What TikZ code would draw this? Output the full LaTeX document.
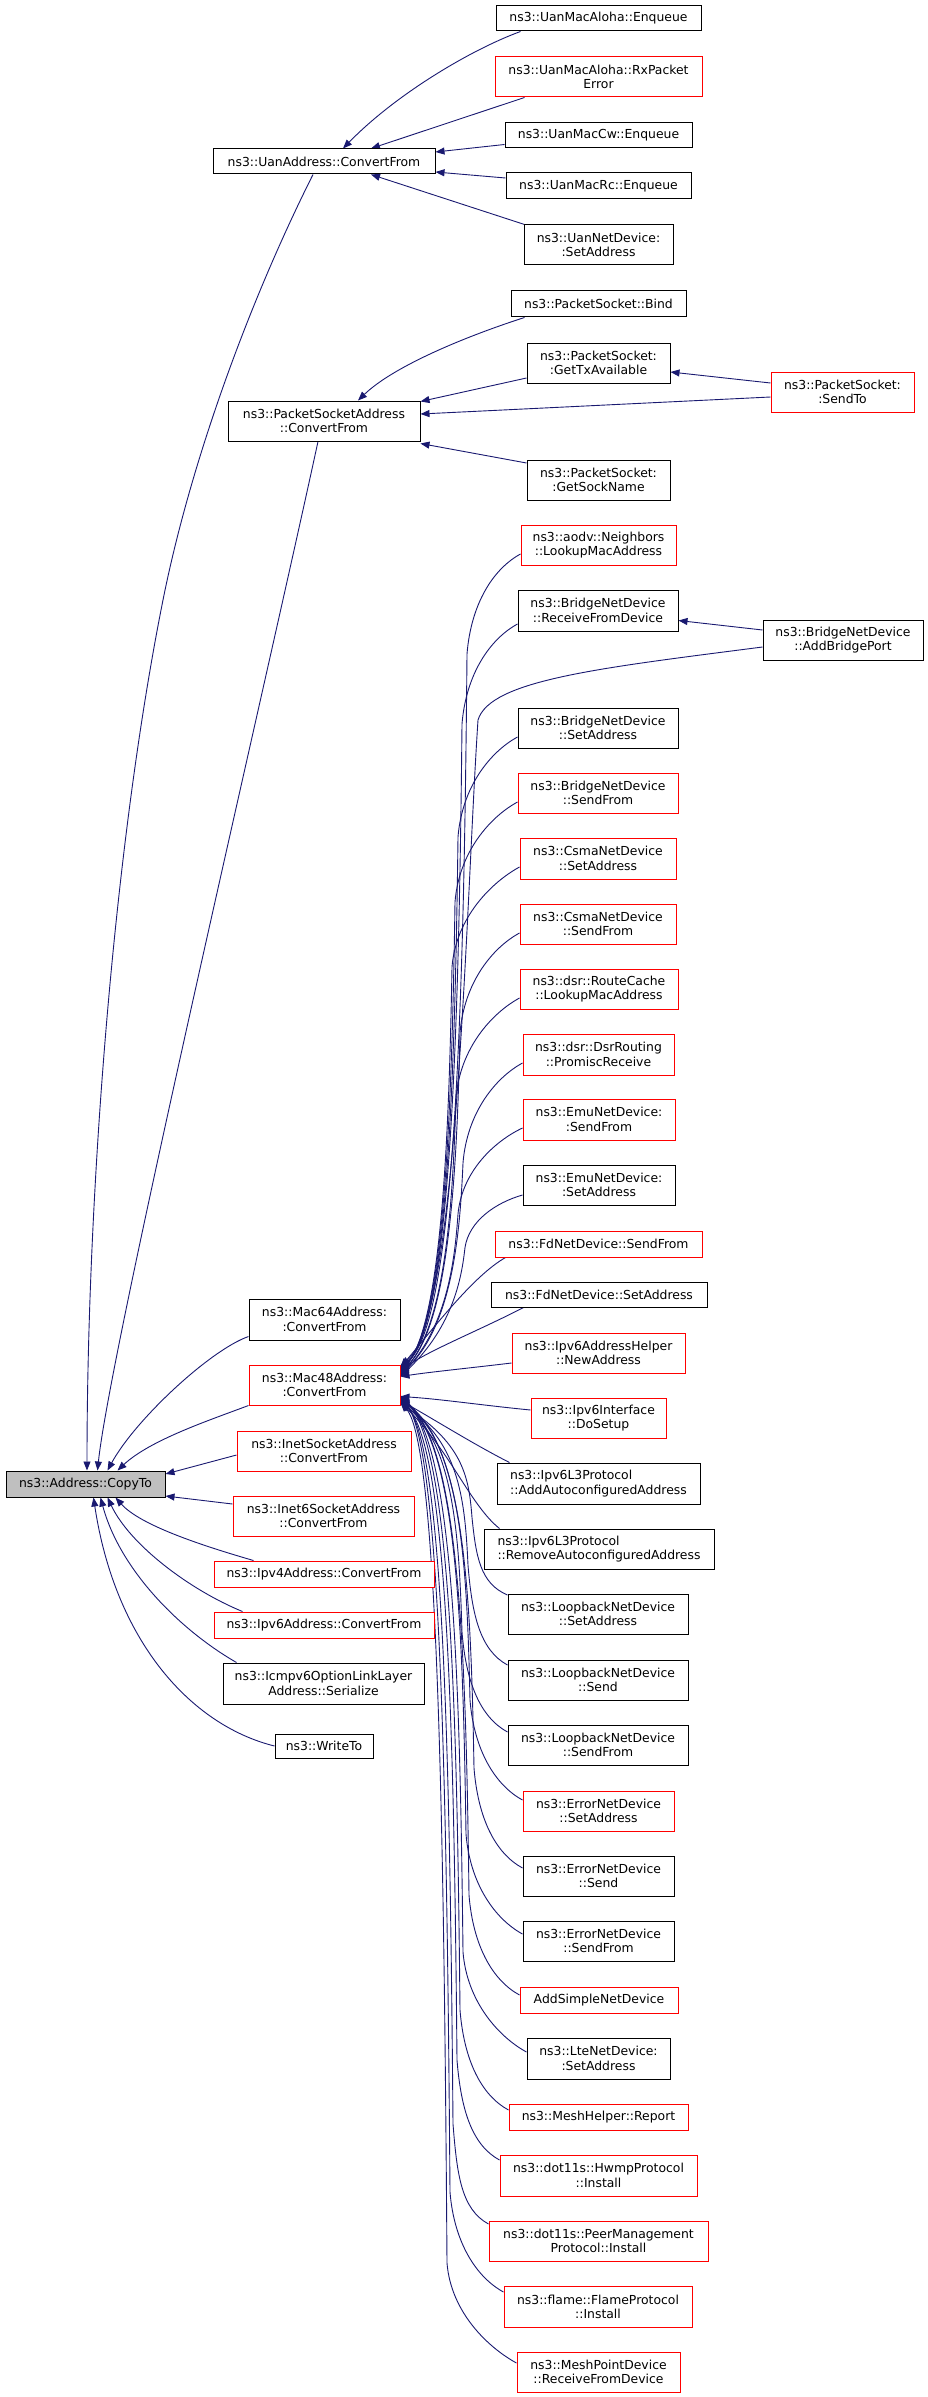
\documentclass[tikz,border=0pt]{standalone}
\usepackage{fontspec}
\setmainfont{DejaVu Sans}
\usetikzlibrary{arrows.meta}
\pgfdeclarelayer{bg}
\pgfsetlayers{bg,main}
\definecolor{edgec}{HTML}{191970}
\definecolor{redc}{HTML}{FF0000}
\definecolor{grayc}{HTML}{BFBFBF}
\tikzset{
  nbox/.style={draw, line width=1pt, fill=white, inner sep=0pt, align=center, text=black,
    font=\fontsize{12.4}{14.3}\selectfont},
  bk/.style={nbox, draw=black},
  rd/.style={nbox, draw=redc},
  gr/.style={nbox, draw=black, fill=grayc},
  bkl/.style={nbox, draw=black, align=left},
  conn/.style={draw=edgec, line width=0.9pt, -{Triangle[length=9pt,width=7pt]}},
}
\newcommand\nd[7]{\node[#6, minimum width={#4-#2}, minimum height={#5-#3}] (#1) at ({(#2+#4)/2},{(#3+#5)/2}) {#7};}
\newcommand\fanU[6]{%
 \pgfmathsetmacro\fanh{min(100,(1300-#4)/2)}%
 \pgfmathsetmacro\fanty{#4+\fanh}%
 \pgfmathsetmacro\fancy{\fanty+0.5*(1300-\fanty)}%
 \draw[conn] ([yshift=#2]#1.west) .. controls ({#3-28},{#4+0.15*\fanh}) and ({#5+4},{#4+0.5*\fanh}) .. (#5,\fanty) .. controls ({#5-3},\fancy) and ({#5-10},1325) .. ([yshift=#6]mac48.north east);}
\newcommand\fanL[6]{%
 \pgfmathsetmacro\fanh{min(100,(#4-1440)/2)}%
 \pgfmathsetmacro\fanty{#4-\fanh}%
 \pgfmathsetmacro\fancy{\fanty-0.5*(\fanty-1440)}%
 \draw[conn] ([yshift=#2]#1.west) .. controls ({#3-28},{#4-0.15*\fanh}) and ({#5+4},{#4-0.5*\fanh}) .. (#5,\fanty) .. controls ({#5-3},\fancy) and ({#5-8},1445) .. ([yshift=#6]mac48.south east);}
\begin{document}
\begin{tikzpicture}[x=1pt,y=-1pt]
\useasboundingbox (0,0) rectangle (928,2397);
% nodes
\nd{aloha}{496}{6}{701}{31}{bk}{ns3::UanMacAloha::Enqueue}
\nd{rxerr}{495}{57}{702}{97}{rd}{ns3::UanMacAloha::RxPacket\\Error}
\nd{cw}{505}{123}{692}{148}{bk}{ns3::UanMacCw::Enqueue}
\nd{uan}{213}{149}{435}{174}{bk}{ns3::UanAddress::ConvertFrom}
\nd{rc}{506}{173}{691}{199}{bk}{ns3::UanMacRc::Enqueue}
\nd{uannd}{524}{225}{673}{265}{bk}{ns3::UanNetDevice:\\:SetAddress}
\nd{bind}{511}{291}{686}{317}{bk}{ns3::PacketSocket::Bind}
\nd{gettx}{527}{343}{670}{383}{bk}{ns3::PacketSocket:\\:GetTxAvailable}
\nd{sendto}{771}{372}{914}{412}{rd}{ns3::PacketSocket:\\:SendTo}
\nd{psa}{228}{401}{420}{441}{bk}{ns3::PacketSocketAddress\\::ConvertFrom}
\nd{sockname}{527}{460}{670}{500}{bk}{ns3::PacketSocket:\\:GetSockName}
\nd{aodv}{521}{525}{676}{565}{rd}{ns3::aodv::Neighbors\\::LookupMacAddress}
\nd{brrecv}{518}{590}{678}{631}{bk}{ns3::BridgeNetDevice\\::ReceiveFromDevice}
\nd{brport}{763}{620}{923}{660}{bk}{ns3::BridgeNetDevice\\::AddBridgePort}
\nd{brset}{518}{708}{678}{748}{bk}{ns3::BridgeNetDevice\\::SetAddress}
\nd{brsend}{518}{773}{678}{813}{rd}{ns3::BridgeNetDevice\\::SendFrom}
\nd{csmaset}{520}{838}{676}{879}{rd}{ns3::CsmaNetDevice\\::SetAddress}
\nd{csmasend}{520}{904}{676}{944}{rd}{ns3::CsmaNetDevice\\::SendFrom}
\nd{dsrrc}{520}{969}{678}{1009}{rd}{ns3::dsr::RouteCache\\::LookupMacAddress}
\nd{dsrr}{523}{1034}{674}{1075}{rd}{ns3::dsr::DsrRouting\\::PromiscReceive}
\nd{emusend}{523}{1099}{675}{1140}{rd}{ns3::EmuNetDevice:\\:SendFrom}
\nd{emuset}{523}{1165}{675}{1205}{bk}{ns3::EmuNetDevice:\\:SetAddress}
\nd{fdsend}{495}{1231}{702}{1257}{rd}{ns3::FdNetDevice::SendFrom}
\nd{fdset}{491}{1282}{707}{1307}{bk}{ns3::FdNetDevice::SetAddress}
\nd{mac64}{249}{1299}{400}{1340}{bk}{ns3::Mac64Address:\\:ConvertFrom}
\nd{ip6ah}{512}{1333}{685}{1373}{rd}{ns3::Ipv6AddressHelper\\::NewAddress}
\nd{mac48}{249}{1365}{400}{1405}{rd}{ns3::Mac48Address:\\:ConvertFrom}
\nd{ip6if}{531}{1398}{666}{1438}{rd}{ns3::Ipv6Interface\\::DoSetup}
\nd{inet}{237}{1431}{411}{1471}{rd}{ns3::InetSocketAddress\\::ConvertFrom}
\nd{copyto}{6}{1471}{165}{1497}{gr}{ns3::Address::CopyTo}
\nd{l3add}{497}{1463}{700}{1504}{bkl}{ns3::Ipv6L3Protocol\\::AddAutoconfiguredAddress}
\nd{inet6}{233}{1496}{414}{1536}{rd}{ns3::Inet6SocketAddress\\::ConvertFrom}
\nd{l3rem}{484}{1529}{714}{1569}{bkl}{ns3::Ipv6L3Protocol\\::RemoveAutoconfiguredAddress}
\nd{ip4}{214}{1561}{434}{1587}{rd}{ns3::Ipv4Address::ConvertFrom}
\nd{lbset}{508}{1594}{688}{1634}{bk}{ns3::LoopbackNetDevice\\::SetAddress}
\nd{ip6}{214}{1612}{434}{1638}{rd}{ns3::Ipv6Address::ConvertFrom}
\nd{lbsend}{508}{1660}{688}{1700}{bk}{ns3::LoopbackNetDevice\\::Send}
\nd{icmp}{223}{1663}{424}{1704}{bk}{ns3::Icmpv6OptionLinkLayer\\Address::Serialize}
\nd{lbsendf}{508}{1725}{688}{1765}{bk}{ns3::LoopbackNetDevice\\::SendFrom}
\nd{writeto}{275}{1734}{373}{1758}{bk}{ns3::WriteTo}
\nd{errset}{523}{1791}{674}{1831}{rd}{ns3::ErrorNetDevice\\::SetAddress}
\nd{errsend}{523}{1856}{674}{1896}{bk}{ns3::ErrorNetDevice\\::Send}
\nd{errsendf}{523}{1921}{674}{1961}{bk}{ns3::ErrorNetDevice\\::SendFrom}
\nd{addsimple}{520}{1987}{678}{2013}{rd}{AddSimpleNetDevice}
\nd{lte}{527}{2038}{670}{2079}{bk}{ns3::LteNetDevice:\\:SetAddress}
\nd{meshrep}{509}{2104}{688}{2130}{rd}{ns3::MeshHelper::Report}
\nd{hwmp}{500}{2155}{697}{2196}{rd}{ns3::dot11s::HwmpProtocol\\::Install}
\nd{peer}{489}{2221}{708}{2261}{rd}{ns3::dot11s::PeerManagement\\Protocol::Install}
\nd{flame}{504}{2286}{692}{2327}{rd}{ns3::flame::FlameProtocol\\::Install}
\nd{mpd}{517}{2352}{680}{2392}{rd}{ns3::MeshPointDevice\\::ReceiveFromDevice}
\begin{pgfonlayer}{bg}
% edges to CopyTo
\draw[conn] ([xshift=-11pt]uan.south) .. controls (250,300) and (191,460) .. (163,600) .. controls (113,850) and (87,1200) .. ([xshift=1.5pt]copyto.north);
\draw[conn] ([xshift=-6pt]psa.south) .. controls (262,700) and (110,1350) .. ([xshift=12pt]copyto.north);
\draw[conn] ([yshift=4pt]mac64.south west) .. controls (210,1350) and (135,1420) .. ([xshift=22pt]copyto.north);
\draw[conn] (mac48.south west) .. controls (210,1420) and (150,1440) .. ([xshift=32pt]copyto.north);
\draw[conn] ([yshift=-4pt]inet.west) -- ([yshift=10pt]copyto.east);
\draw[conn] ([yshift=12pt]inet6.west) -- ([yshift=-12pt]copyto.east);
\draw[conn] ([xshift=40pt]ip4.north west) .. controls (200,1545) and (140,1525) .. ([xshift=30pt]copyto.south);
\draw[conn] ([xshift=29pt]ip6.north west) .. controls (190,1590) and (130,1545) .. ([xshift=22pt]copyto.south);
\draw[conn] ([xshift=14pt]icmp.north west) .. controls (180,1630) and (120,1570) .. ([xshift=15pt]copyto.south);
\draw[conn] (writeto.west) .. controls (190,1725) and (115,1640) .. ([xshift=8pt]copyto.south);
% edges to UanAddress
\draw[conn] ([xshift=25pt]aloha.south west) .. controls (470,50) and (395,95) .. ([xshift=19pt]uan.north);
\draw[conn] ([xshift=30pt]rxerr.south west) -- ([xshift=47pt]uan.north);
\draw[conn] ([yshift=-9pt]cw.west) -- ([yshift=9.5pt]uan.east);
\draw[conn] ([yshift=8pt]rc.west) -- ([yshift=-10.5pt]uan.east);
\draw[conn] ([xshift=1pt]uannd.north west) -- ([xshift=47pt]uan.south);
% edges to PacketSocketAddress
\draw[conn] ([xshift=14pt]bind.south west) .. controls (470,335) and (395,365) .. ([xshift=34pt]psa.north);
\draw[conn] ([yshift=-15pt]gettx.west) -- ([yshift=-1pt]psa.north east);
\draw[conn] ([yshift=9pt]sendto.west) -- ([yshift=-9pt]gettx.east);
\draw[conn] ([yshift=-5pt]sendto.west) -- ([yshift=7pt]psa.east);
\draw[conn] ([yshift=17pt]sockname.west) -- ([yshift=-2pt]psa.south east);
\draw[conn] ([yshift=10pt]brport.west) -- ([yshift=-10pt]brrecv.east);
% edges to Mac48Address
\draw[conn] ([yshift=-7pt]brport.west) .. controls (600,668) and (490,680) .. (478,720) .. controls (466,900) and (458,1320) .. ([yshift=-1pt]mac48.north east);
\fanU{aodv}{-9pt}{521}{554}{467}{-2pt}
\fanU{brrecv}{-13.5pt}{518}{624}{462}{-4pt}
\fanU{brset}{-9pt}{518}{737}{458}{-5pt}
\fanU{brsend}{-9pt}{518}{802}{455}{-6pt}
\fanU{csmaset}{-8.5pt}{520}{867}{452}{-7pt}
\fanU{csmasend}{-9pt}{520}{933}{460}{-8pt}
\fanU{dsrrc}{-9pt}{520}{998}{456}{-9pt}
\fanU{dsrr}{-8.5pt}{523}{1063}{463}{-10pt}
\fanU{emusend}{-8.5pt}{523}{1128}{458}{-11pt}
\fanU{emuset}{-10pt}{523}{1195}{465}{-12pt}
\draw[conn] ([xshift=11pt]fdsend.south west) .. controls (475,1275) and (440,1320) .. ([yshift=-3pt]mac48.north east);
\draw[conn] ([xshift=33pt]fdset.south west) .. controls (480,1330) and (430,1350) .. ([yshift=-6pt]mac48.north east);
\draw[conn] ([yshift=-10pt]ip6ah.west) .. controls (470,1368) and (430,1372) .. ([yshift=-12pt]mac48.north east);
\draw[conn] ([yshift=8pt]ip6if.west) .. controls (480,1405) and (440,1399) .. ([yshift=9pt]mac48.south east);
\draw[conn] ([xshift=13pt]l3add.north west) .. controls (475,1445) and (435,1420) .. ([yshift=5pt]mac48.south east);
\draw[conn] ([xshift=16pt]l3rem.north west) .. controls (470,1505) and (450,1450) .. ([yshift=3pt]mac48.south east);
\fanL{lbset}{19pt}{508}{1595}{472}{2pt}
\fanL{lbsend}{15pt}{508}{1665}{468}{3pt}
\fanL{lbsendf}{13pt}{508}{1732}{462}{4pt}
\fanL{errset}{11pt}{523}{1800}{470}{5pt}
\fanL{errsend}{8pt}{523}{1868}{474}{6pt}
\fanL{errsendf}{7pt}{523}{1934}{466}{7pt}
\fanL{addsimple}{5pt}{520}{1995}{469}{8pt}
\fanL{lte}{6.5pt}{527}{2052}{463}{9pt}
\fanL{meshrep}{7pt}{509}{2110}{460}{10pt}
\fanL{hwmp}{15.5pt}{500}{2160}{457}{4pt}
\fanL{peer}{17pt}{489}{2224}{453}{6pt}
\fanL{flame}{14.5pt}{504}{2292}{450}{8pt}
\fanL{mpd}{9pt}{517}{2363}{447}{3pt}
\end{pgfonlayer}
\end{tikzpicture}
\end{document}
